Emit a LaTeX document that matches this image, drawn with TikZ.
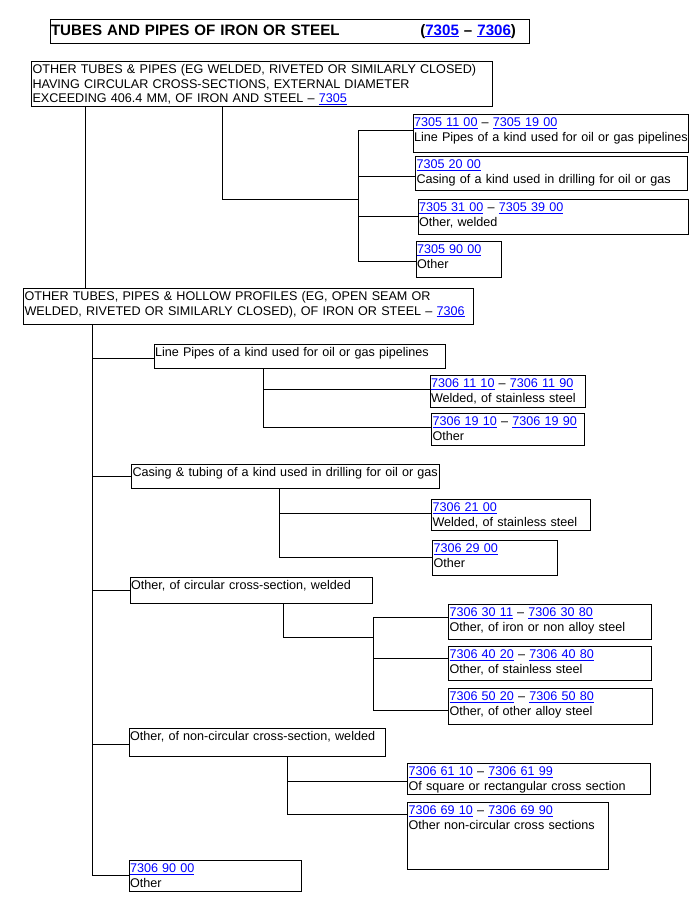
\documentclass[tikz,border=0pt]{standalone}
\usepackage{fontspec}
\setmainfont{Liberation Sans}
\usepackage{xcolor}
\usepackage{tikz}
\usetikzlibrary{positioning, calc}
\definecolor{linkblue}{RGB}{0, 0, 255}
\newcommand{\lk}[1]{{\color{linkblue}\underline{#1}}}

\begin{document}
\begin{tikzpicture}[
    x=1pt, y=-1pt,
    cell/.style 2 args={draw, line width=1pt, outer sep=0pt, anchor=north west, inner sep=1pt, align=left,
        font=\fontsize{12.6}{14.5}\selectfont, text width=#1, text height=11.5pt, text depth=#2},
    head/.style={draw, line width=1pt, outer sep=0pt, anchor=north west, inner sep=1pt, align=left,
        font=\fontsize{15.1}{17}\selectfont\bfseries, text width=477pt, text height=15pt, text depth=7pt},
    link/.style={line width=1pt}
]
    \useasboundingbox (0,0) rectangle (697,898);

    % Heading
    \node[head] (title) at (50,19) {TUBES AND PIPES OF IRON OR STEEL\hfill(\lk{7305} -- \lk{7306})\hspace*{12pt}\rule{0pt}{1pt}};

    % Heading 7305
    \node[cell={458.5pt}{31.5pt}] (h7305) at (31.5,61) {OTHER TUBES \& PIPES (EG WELDED, RIVETED OR SIMILARLY CLOSED)\\HAVING CIRCULAR CROSS-SECTIONS, EXTERNAL DIAMETER\\EXCEEDING 406.4 MM, OF IRON AND STEEL -- \lk{7305}};
    \node[cell={273pt}{24.5pt}] (s730511) at (413,114) {\lk{7305 11 00} -- \lk{7305 19 00}\\\mbox{Line Pipes of a kind used for oil or gas pipelines}};
    \node[cell={269.5pt}{20.5pt}] (s730520) at (415.5,156) {\lk{7305 20 00}\\Casing of a kind used in drilling for oil or gas};
    \node[cell={268pt}{21.5pt}] (s730531) at (418,199) {\lk{7305 31 00} -- \lk{7305 39 00}\\Other, welded};
    \node[cell={83pt}{22.5pt}] (s730590) at (416,241) {\lk{7305 90 00}\\Other};

    % Heading 7306
    \node[cell={447.5pt}{22.5pt}] (h7306) at (23.5,288) {OTHER TUBES, PIPES \& HOLLOW PROFILES (EG, OPEN SEAM OR\\WELDED, RIVETED OR SIMILARLY CLOSED), OF IRON OR STEEL -- \lk{7306}};
    \node[cell={289pt}{10.5pt}] (linepipe) at (154,344) {Line Pipes of a kind used for oil or gas pipelines};
    \node[cell={153pt}{18.5pt}] (s730611) at (430,375) {\lk{7306 11 10} -- \lk{7306 11 90}\\Welded, of stainless steel};
    \node[cell={150.5pt}{18.5pt}] (s730619) at (431.5,413) {\lk{7306 19 10} -- \lk{7306 19 90}\\Other};
    \node[cell={305.5pt}{10.5pt}] (casing) at (131.5,464) {\mbox{Casing \& tubing of a kind used in drilling for oil or gas}};
    \node[cell={156.5pt}{17.5pt}] (s730621) at (431.5,499) {\lk{7306 21 00}\\Welded, of stainless steel};
    \node[cell={122.5pt}{21.5pt}] (s730629) at (432.5,540) {\lk{7306 29 00}\\Other};
    \node[cell={240pt}{12.5pt}] (circular) at (130,577) {Other, of circular cross-section, welded};
    \node[cell={201pt}{21.5pt}] (s730630) at (448.5,604) {\lk{7306 30 11} -- \lk{7306 30 80}\\Other, of iron or non alloy steel};
    \node[cell={201pt}{20.5pt}] (s730640) at (448.5,646) {\lk{7306 40 20} -- \lk{7306 40 80}\\Other, of stainless steel};
    \node[cell={202pt}{22.5pt}] (s730650) at (448.5,688) {\lk{7306 50 20} -- \lk{7306 50 80}\\Other, of other alloy steel};
    \node[cell={254pt}{14.5pt}] (noncirc) at (129,728) {Other, of non-circular cross-section, welded};
    \node[cell={241pt}{17.5pt}] (s730661) at (407.5,763) {\lk{7306 61 10} -- \lk{7306 61 99}\\Of square or rectangular cross section};
    \node[cell={199pt}{53.5pt}] (s730669) at (407.5,802) {\lk{7306 69 10} -- \lk{7306 69 90}\\Other non-circular cross sections};
    \node[cell={170pt}{17.5pt}] (s730690) at (129,860) {\lk{7306 90 00}\\Other};

    % Trunk and bus positions
    \coordinate (trunkA) at (85,0);
    \coordinate (trunkB) at (92.5,0);
    \coordinate (dropA) at (222,0);
    \coordinate (busA) at (358,0);
    \coordinate (dropC1) at (263.5,0);
    \coordinate (dropC2) at (279.5,0);
    \coordinate (dropC3) at (283.5,0);
    \coordinate (busC3) at (373,0);
    \coordinate (dropC4) at (287.5,0);

    % 7305 branch
    \draw[link] (h7305.south -| trunkA) -- (h7306.north -| trunkA);
    \draw[link] (h7305.south -| dropA) |- (busA |- s730531.north);
    \draw[link] ([yshift=3pt]s730511.west -| busA) -- ([yshift=-2pt]s730590.west -| busA);
    \draw[link] ([yshift=3pt]s730511.west -| busA) -- ([yshift=3pt]s730511.west);
    \draw[link] ([yshift=-3pt]s730520.west -| busA) -- ([yshift=-3pt]s730520.west);
    \draw[link] (s730531.west -| busA) -- (s730531.west);
    \draw[link] ([yshift=-2pt]s730590.west -| busA) -- ([yshift=-2pt]s730590.west);

    % 7306 branch
    \draw[link] (h7306.south -| trunkB) -- (s730690.west -| trunkB);
    \draw[link] ([yshift=-2pt]linepipe.west -| trunkB) -- ([yshift=-2pt]linepipe.west);
    \draw[link] (casing.west -| trunkB) -- (casing.west);
    \draw[link] (circular.west -| trunkB) -- (circular.west);
    \draw[link] ([yshift=-2pt]noncirc.west -| trunkB) -- ([yshift=-2pt]noncirc.west);
    \draw[link] (s730690.west -| trunkB) -- (s730690.west);

    \draw[link] (linepipe.south -| dropC1) |- ([yshift=2pt]s730619.west);
    \draw[link] ([yshift=2pt]s730611.west -| dropC1) -- ([yshift=2pt]s730611.west);

    \draw[link] (casing.south -| dropC2) |- (s730629.west);
    \draw[link] ([yshift=1.5pt]s730621.west -| dropC2) -- ([yshift=1.5pt]s730621.west);

    \draw[link] (circular.south -| dropC3) |- ($([yshift=4pt]s730630.west -| busC3)!0.5!([yshift=5pt]s730640.west -| busC3)$);
    \draw[link] ([yshift=4pt]s730630.west -| busC3) -- ([yshift=-4pt]s730650.west -| busC3);
    \draw[link] ([yshift=4pt]s730630.west -| busC3) -- ([yshift=4pt]s730630.west);
    \draw[link] ([yshift=5pt]s730640.west -| busC3) -- ([yshift=5pt]s730640.west);
    \draw[link] ([yshift=-4pt]s730650.west -| busC3) -- ([yshift=-4pt]s730650.west);

    \draw[link] (noncirc.south -| dropC4) |- ([yshift=-12pt]s730669.north west);
    \draw[link] ([yshift=-2.5pt]s730661.west -| dropC4) -- ([yshift=-2.5pt]s730661.west);
\end{tikzpicture}
\end{document}
